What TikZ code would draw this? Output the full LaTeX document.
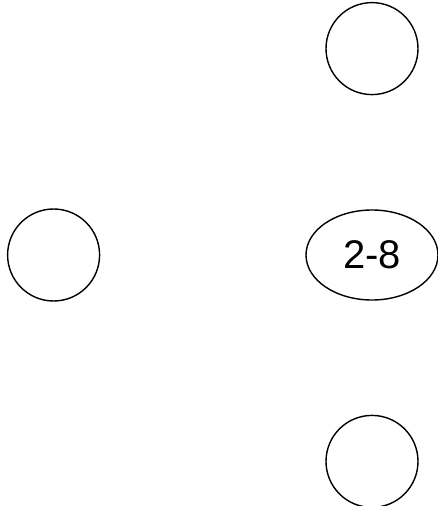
\documentclass[tikz,border=0pt]{standalone}
\usepackage{fontspec}
\setmainfont{Liberation Sans}
\usetikzlibrary{positioning,shapes.geometric}

\begin{document}
\begin{tikzpicture}[x=1pt, y=1pt, node distance=114pt and 205pt,
		ring/.style={draw, circle, line width=1.4pt, minimum size=92pt, inner sep=0pt},
		oval/.style={draw, ellipse, line width=1.4pt, minimum width=132pt, minimum height=90pt, inner sep=0pt, font=\fontsize{40}{44}\selectfont}]
			\useasboundingbox (0,0) rectangle (438,-506);
			\node[oval] (mid) at (372,-255) {2-8};
			\node[ring, above=of mid] (top) {};
			\node[ring, below=of mid] (bottom) {};
			\node[ring, left=of mid] (left) {};
		\end{tikzpicture}
\end{document}
